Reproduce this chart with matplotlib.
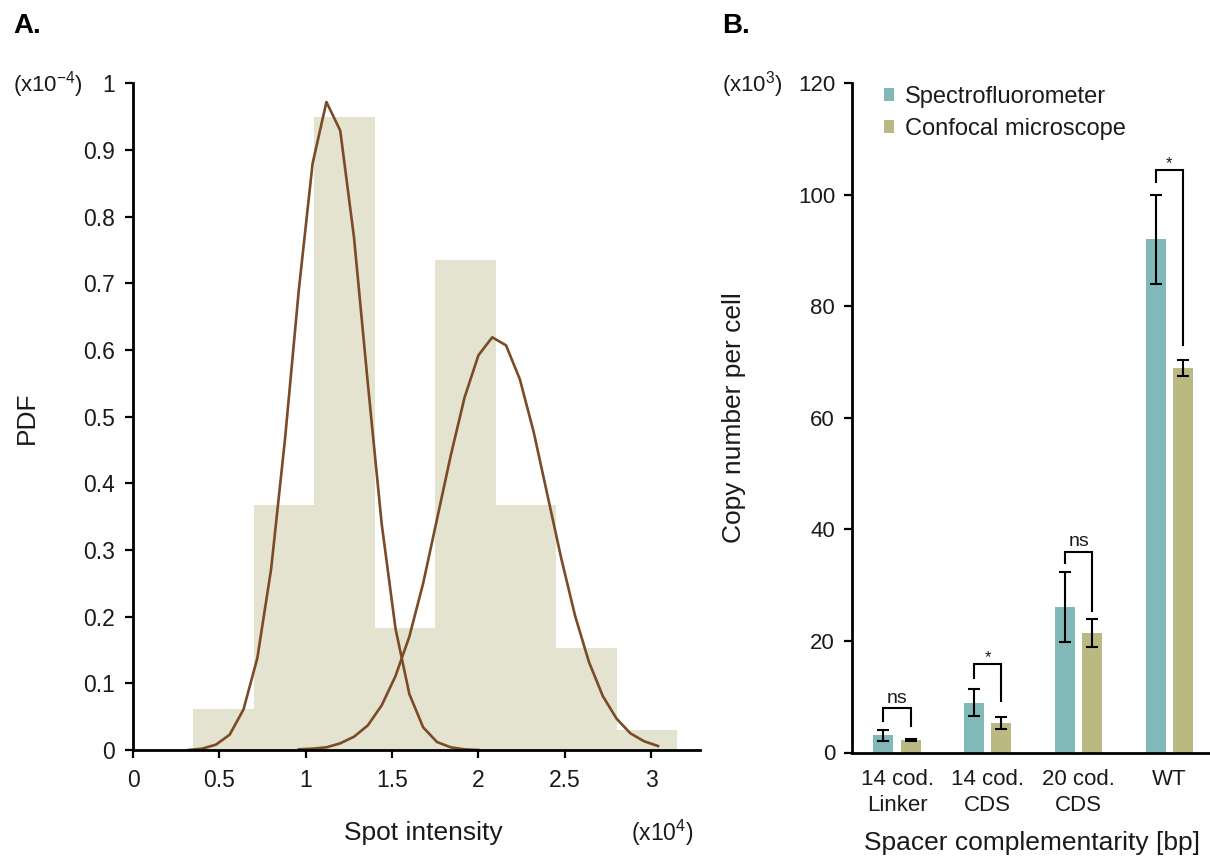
import numpy as np
import matplotlib
matplotlib.use("Agg")
import matplotlib.pyplot as plt
from matplotlib.patches import Patch

plt.rcParams['font.family'] = ['Liberation Sans', 'DejaVu Sans']
plt.rcParams['mathtext.fontset'] = 'custom'
plt.rcParams['mathtext.rm'] = 'Liberation Sans'
plt.rcParams['mathtext.it'] = 'Liberation Sans:italic'
plt.rcParams['mathtext.bf'] = 'Liberation Sans:bold'

# ---------------- Panel A data ----------------
hist_edges = [0.35, 0.70, 1.05, 1.40, 1.75, 2.10, 2.45, 2.80, 3.15]
hist_heights = [0.061, 0.367, 0.950, 0.183, 0.735, 0.367, 0.153, 0.030]

curve1_x = [0.32, 0.40, 0.48, 0.56, 0.64, 0.72, 0.80, 0.88, 0.96, 1.04, 1.12,
            1.20, 1.28, 1.36, 1.44, 1.52, 1.60, 1.68, 1.76, 1.84, 1.92, 2.00]
curve1_y = [0.000, 0.002, 0.008, 0.023, 0.061, 0.138, 0.272, 0.466, 0.690, 0.880, 0.972,
            0.929, 0.768, 0.549, 0.339, 0.182, 0.084, 0.034, 0.012, 0.004, 0.001, 0.000]

curve2_x = [0.96, 1.04, 1.12, 1.20, 1.28, 1.36, 1.44, 1.52, 1.60, 1.68, 1.76, 1.84, 1.92,
            2.00, 2.08, 2.16, 2.24, 2.32, 2.40, 2.48, 2.56, 2.64, 2.72, 2.80, 2.88, 2.96, 3.04]
curve2_y = [0.001, 0.002, 0.004, 0.010, 0.020, 0.037, 0.067, 0.111, 0.170, 0.250, 0.346,
            0.442, 0.529, 0.592, 0.619, 0.607, 0.556, 0.477, 0.382, 0.287, 0.201, 0.132,
            0.081, 0.047, 0.025, 0.013, 0.006]

a_xticks = [0, 0.5, 1, 1.5, 2, 2.5, 3]
a_xticklabels = ['0', '0.5', '1', '1.5', '2', '2.5', '3']
a_yticks = [0, 0.1, 0.2, 0.3, 0.4, 0.5, 0.6, 0.7, 0.8, 0.9, 1.0]
a_yticklabels = ['0', '0.1', '0.2', '0.3', '0.4', '0.5', '0.6', '0.7', '0.8', '0.9', '1']

# ---------------- Panel B data ----------------
groups = ['14 cod.\nLinker', '14 cod.\nCDS', '20 cod.\nCDS', 'WT']
spectro_mean = [3.1, 8.9, 26.1, 92.0]
spectro_err = [0.95, 2.4, 6.2, 7.9]
confocal_mean = [2.3, 5.3, 21.4, 68.9]
confocal_err = [0.15, 1.0, 2.5, 1.4]
series_names = ['Spectrofluorometer', 'Confocal microscope']

# significance brackets: top, left leg bottom, right leg bottom, label
sig_top = [7.9, 15.95, 36.0, 104.5]
sig_left_bottom = [5.65, 13.4, 33.9, 102.3]
sig_right_bottom = [4.7, 9.3, 25.4, 73.1]
sig_labels = ['ns', '*', 'ns', '*']

b_yticks = [0, 20, 40, 60, 80, 100, 120]

# ---------------- styling ----------------
W, H = 1210, 858
HIST_C = '#E3E3CF'
CURVE_C = '#7B4A26'
TEAL = '#81B9B9'
OLIVE = '#BAB981'
TXT = '#1a1a1a'

fig = plt.figure(figsize=(W / 100, H / 100), dpi=100)

def fx(px):
    return px / W

def fy(py):
    return 1 - py / H

# ---------------- Panel A ----------------
axA = fig.add_axes([fx(133), fy(750), fx(700) - fx(133), fy(83.3) - fy(750)])
widths = np.diff(hist_edges)
axA.bar(hist_edges[:-1], hist_heights, width=widths, align='edge',
        color=HIST_C, edgecolor='none', zorder=1)
axA.plot(curve1_x, curve1_y, color=CURVE_C, lw=1.9, zorder=2)
axA.plot(curve2_x, curve2_y, color=CURVE_C, lw=1.9, zorder=2)
axA.set_xlim(0, 3.283)
axA.set_ylim(0, 1)
axA.set_xticks(a_xticks)
axA.set_xticklabels(a_xticklabels)
axA.set_yticks(a_yticks)
axA.set_yticklabels(a_yticklabels)
for s in ['top', 'right']:
    axA.spines[s].set_visible(False)
for s in ['left', 'bottom']:
    axA.spines[s].set_linewidth(2.0)
    axA.spines[s].set_color('black')
    axA.spines[s].set_zorder(3)
axA.tick_params(axis='both', direction='out', length=6, width=1.6, colors='black',
                labelsize=16.5, labelcolor=TXT)
axA.tick_params(axis='y', pad=7)
axA.tick_params(axis='x', pad=8)

# ---------------- Panel B ----------------
axB = fig.add_axes([fx(851.7), fy(752.5), fx(1210) - fx(851.7), fy(83.3) - fy(752.5)])
xpos = np.arange(len(groups))
off = 0.15
bw = 0.22
axB.bar(xpos - off, spectro_mean, width=bw, color=TEAL, edgecolor='none',
        label=series_names[0], zorder=1)
axB.bar(xpos + off, confocal_mean, width=bw, color=OLIVE, edgecolor='none',
        label=series_names[1], zorder=1)
axB.errorbar(xpos - off, spectro_mean, yerr=spectro_err, fmt='none', ecolor='black',
             elinewidth=1.5, capsize=4, capthick=1.5, zorder=3)
axB.errorbar(xpos + off, confocal_mean, yerr=confocal_err, fmt='none', ecolor='black',
             elinewidth=1.5, capsize=4, capthick=1.5, zorder=3)

for i in range(len(groups)):
    xl, xr = xpos[i] - off, xpos[i] + off
    axB.plot([xl, xl, xr, xr], [sig_left_bottom[i], sig_top[i], sig_top[i], sig_right_bottom[i]],
             color='black', lw=1.5, solid_joinstyle='miter', zorder=3)
    lab = sig_labels[i]
    if lab == 'ns':
        axB.text(xpos[i], sig_top[i] + 1.0, lab, ha='center', va='baseline',
                 fontsize=14, color=TXT)
    else:
        axB.text(xpos[i], sig_top[i] + 0.2, lab, ha='center', va='baseline',
                 fontsize=12, color=TXT)

axB.set_xlim(-0.5, 3.447)
axB.set_ylim(0, 120)
axB.set_xticks(xpos)
axB.set_xticklabels(groups, linespacing=1.3)
axB.set_yticks(b_yticks)
for s in ['top', 'right']:
    axB.spines[s].set_visible(False)
for s in ['left', 'bottom']:
    axB.spines[s].set_linewidth(2.0)
    axB.spines[s].set_color('black')
axB.tick_params(axis='y', direction='out', length=6, width=1.6, colors='black',
                labelsize=16, labelcolor=TXT, pad=6)
axB.tick_params(axis='x', length=0, labelsize=16, labelcolor=TXT, pad=12)

handles = [Patch(facecolor=TEAL, edgecolor='none'), Patch(facecolor=OLIVE, edgecolor='none')]
axB.legend(handles, series_names, loc='upper left', bbox_to_anchor=(fx(884), fy(86)),
           bbox_transform=fig.transFigure, frameon=False, fontsize=17,
           handlelength=0.42, handleheight=0.42, handletextpad=0.45,
           labelspacing=0.42, borderpad=0, borderaxespad=0, labelcolor=TXT)

# ---------------- texts ----------------
title_font = ['Liberation Sans Narrow', 'Liberation Sans', 'DejaVu Sans']
fig.text(fx(13), fy(33), 'A.', fontsize=20, fontweight='bold', family=title_font,
         ha='left', va='baseline', color='black')
fig.text(fx(722), fy(33), 'B.', fontsize=20, fontweight='bold', family=title_font,
         ha='left', va='baseline', color='black')
fig.text(fx(13), fy(91), r'(x10$^{\mathregular{-4}}$)', fontsize=16, ha='left',
         va='baseline', color=TXT)
fig.text(fx(722), fy(91), r'(x10$^{\mathregular{3}}$)', fontsize=16, ha='left',
         va='baseline', color=TXT)
fig.text(fx(27), fy(418), 'PDF', fontsize=19, rotation=90, ha='center', va='center', color=TXT)
fig.text(fx(423), fy(833), 'Spot intensity', fontsize=19, ha='center', va='center', color=TXT)
fig.text(fx(662), fy(833), r'(x10$^{\mathregular{4}}$)', fontsize=16.5, ha='center',
         va='center', color=TXT)
fig.text(fx(734), fy(418), 'Copy number per cell', fontsize=19, rotation=90,
         ha='center', va='center', color=TXT)
fig.text(fx(1032), fy(843), 'Spacer complementarity [bp]', fontsize=19, ha='center',
         va='center', color=TXT)

fig.savefig('out.png', dpi=100)
